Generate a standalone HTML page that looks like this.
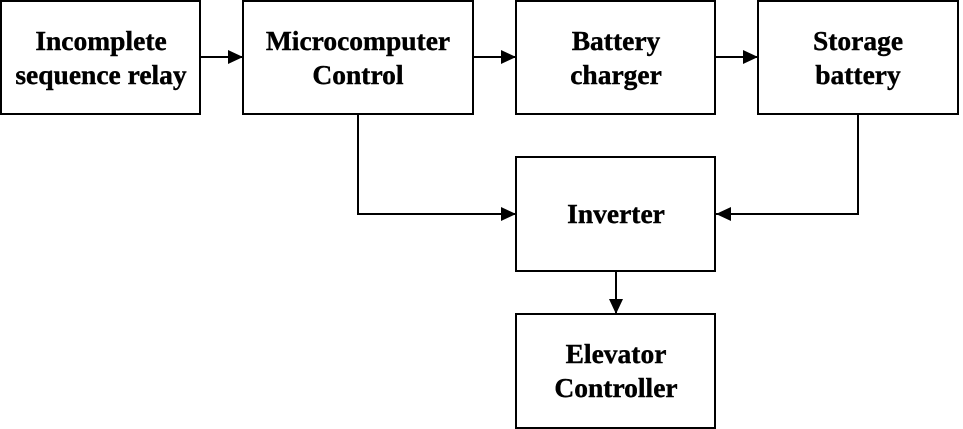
<!DOCTYPE html>
<html><head><style>
html,body{margin:0;padding:0;background:#fff;width:963px;height:429px;overflow:hidden}
text{font-family:"Liberation Serif",serif;font-weight:bold;font-size:27.5px;fill:#000;stroke:#000;stroke-width:0.4}
</style></head><body>
<svg width="963" height="429" viewBox="0 0 963 429" xmlns="http://www.w3.org/2000/svg">
<defs><marker id="a" markerWidth="15" markerHeight="14" refX="15" refY="7" orient="auto" markerUnits="userSpaceOnUse"><path d="M0,0 L15,7 L0,14 Z" fill="#000"/></marker></defs>
<g fill="none" stroke="#000" stroke-width="2">
<rect x="1" y="1" width="199" height="113"/>
<rect x="243" y="1" width="230" height="113"/>
<rect x="516" y="1" width="199" height="113"/>
<rect x="758" y="1" width="200" height="113"/>
<rect x="516" y="157" width="199" height="114"/>
<rect x="516" y="314" width="199" height="114"/>
<path d="M200 57 H243" marker-end="url(#a)"/>
<path d="M473 57 H516" marker-end="url(#a)"/>
<path d="M715 57 H758" marker-end="url(#a)"/>
<path d="M358 114 V214 H516" marker-end="url(#a)"/>
<path d="M858 114 V214 H716" marker-end="url(#a)"/>
<path d="M616 271 V314" marker-end="url(#a)"/>
</g>
<g text-anchor="middle">
<text x="101" y="50">Incomplete</text><text x="101" y="84">sequence relay</text>
<text x="358" y="50">Microcomputer</text><text x="358" y="84">Control</text>
<text x="616" y="50">Battery</text><text x="616" y="84">charger</text>
<text x="858" y="50">Storage</text><text x="858" y="84">battery</text>
<text x="616" y="223">Inverter</text>
<text x="616" y="363">Elevator</text><text x="616" y="397">Controller</text>
</g>
</svg>
</body></html>
